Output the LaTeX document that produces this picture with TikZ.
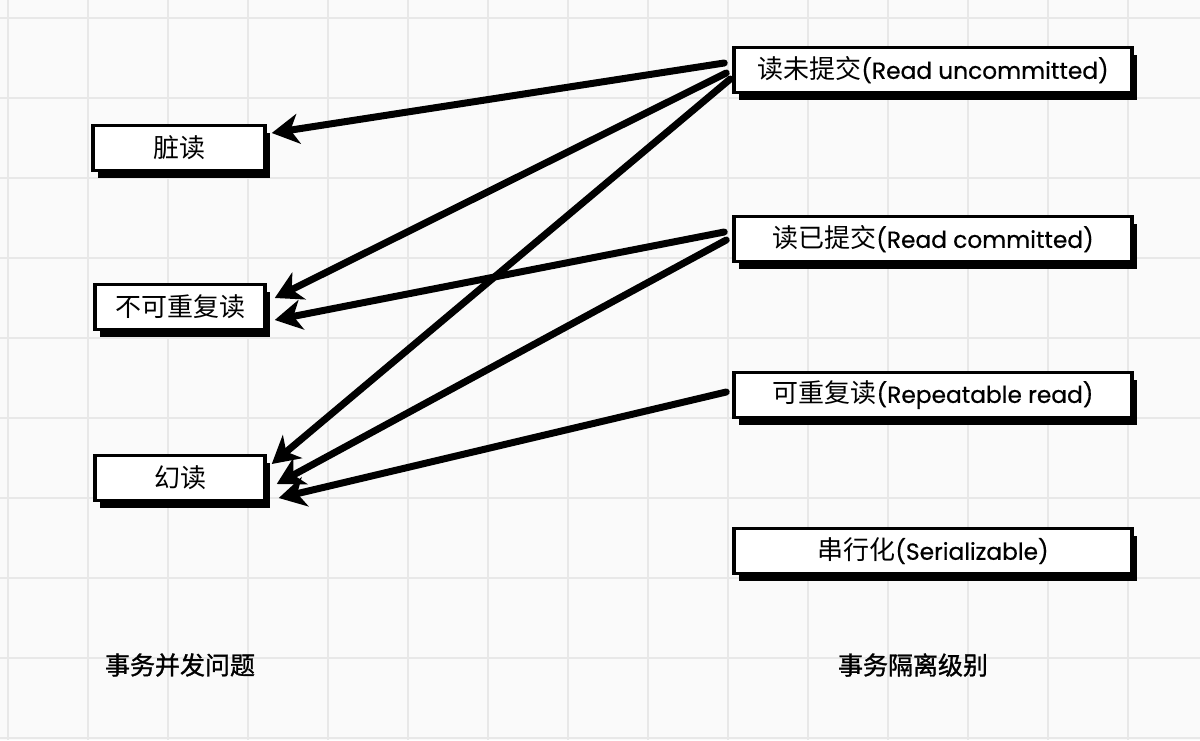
\documentclass[tikz,border=0pt]{standalone}
\usepackage{fontspec}
\setmainfont{Poppins}
\newfontfamily\latf[FakeBold=0.6]{Poppins}
\newfontfamily\cjk{Noto Sans CJK SC}
\newfontfamily\cjkb[FakeBold=1.2]{Noto Sans CJK SC}
\usetikzlibrary{arrows.meta,shadows}
\definecolor{gridc}{HTML}{E8E8E8}
\definecolor{bgc}{HTML}{FAFAFA}
\tikzset{
  sbox/.style={draw=black, line width=3.5pt, fill=white, inner sep=0pt,
    drop shadow={shadow xshift=5pt, shadow yshift=-7pt, fill=black, opacity=1}},
  lbox/.style={sbox, minimum width=170pt, minimum height=45pt},
  rbox/.style={sbox, minimum width=398pt, minimum height=45pt},
  title/.style={font=\cjkb\fontsize{25}{30}\selectfont},
  conn/.style={line width=7pt, -{Stealth[length=27pt,width=30pt,inset=8pt]}, line cap=round}
}
\newcommand{\lat}[1]{{\latf\fontsize{23.3}{28}\selectfont #1}}
\newcommand{\zh}[1]{{\cjk\fontsize{26}{30}\selectfont #1}}
\begin{document}
\begin{tikzpicture}[x=1pt,y=-1pt]
\useasboundingbox (0,0) rectangle (1200,740);
\fill[bgc] (0,0) rectangle (1200,740);
\foreach \i in {0,...,14} {\draw[gridc, line width=2.5pt] (8+80*\i,0) -- (8+80*\i,740);}
\foreach \j in {0,...,9} {\draw[gridc, line width=2.5pt] (0,18+80*\j) -- (1200,18+80*\j);}
% left boxes
\node[lbox, minimum width=172pt] (dirty) at (179,148) {\zh{脏读}};
\node[lbox] (nonrep) at (180,307) {\zh{不可重复读}};
\node[lbox] (phantom) at (180,478) {\zh{幻读}};
% right boxes
\node[rbox] (ru) at (933,70) {\zh{读未提交}\lat{(Read uncommitted)}};
\node[rbox] (rc) at (933,239) {\zh{读已提交}\lat{(Read committed)}};
\node[rbox] (rr) at (933,395) {\zh{可重复读}\lat{(Repeatable read)}};
\node[rbox] (ser) at (933,551) {\zh{串行化}\lat{(Serializable)}};
% titles
\node[title] (t1) at (180,665) {事务并发问题};
\node[title] (t2) at (913,665) {事务隔离级别};
% connectors
\draw[conn] ([xshift=-8pt,yshift=7pt]ru.west) -- ([xshift=5pt,yshift=15pt]dirty.east);
\draw[conn] ([xshift=-6pt,yshift=-3pt]ru.west) -- ([xshift=8pt,yshift=9pt]nonrep.east);
\draw[conn] ([xshift=-2pt,yshift=-9pt]ru.west) -- ([xshift=5pt,yshift=14pt]phantom.east);
\draw[conn] ([xshift=-8pt,yshift=7pt]rc.west) -- ([xshift=8pt,yshift=-13pt]nonrep.east);
\draw[conn] ([xshift=-6pt,yshift=-1pt]rc.west) -- ([xshift=10pt,yshift=-6pt]phantom.east);
\draw[conn] ([xshift=-6pt,yshift=3pt]rr.west) -- ([xshift=12pt,yshift=-20pt]phantom.east);
\end{tikzpicture}
\end{document}
